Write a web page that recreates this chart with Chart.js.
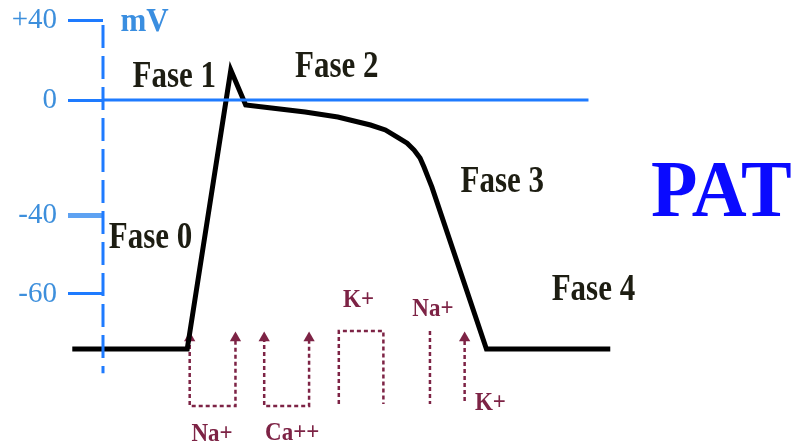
<!DOCTYPE html>
<html>
<head>
<meta charset="utf-8">
<script src="https://cdn.jsdelivr.net/npm/chart.js@4.4.1/dist/chart.umd.min.js"></script>
<style>
  html, body { margin: 0; background: #fff; }
  canvas { display: block; }
</style>
</head>
<body>
<canvas id="pat" width="807" height="447"></canvas>
<script>
// potencial de acción: tiempo (ms desde el inicio de la fase 0) y voltaje (mV)
const apTime = [-116, 0, 44, 59, 85, 119, 152, 185, 200, 212, 222, 229, 235, 239, 243, 247, 302, 427];
const apVolt = [-90, -90, 15, -1.7, -2.8, -4.2, -5.9, -8.7, -10.4, -12.9, -15.0, -17.4, -20.2, -23.3, -26.8, -30.3, -90, -90];
const zeroTime = [-85, 405];
const axisVolt = [37.5, -103];

const yTicks = [40, 0, -40, -60];
const yTickLabels = ['+40', '0', '-40', '-60'];

const phases = ['Fase 0', 'Fase 1', 'Fase 2', 'Fase 3', 'Fase 4'];
const phaseTime = [-37, -13, 151, 318, 410];
const phaseVolt = [-45.8, 11.5, 16.5, -28.5, -59.2];

// corrientes iónicas (flechas bajo la línea de reposo)
const naInTime = [2.5, 2.5, 48.7, 48.7];
const naInVolt = [-84, -120.7, -120.7, -84];
const caInTime = [77.7, 77.7, 123, 123];
const caInVolt = [-84, -120.7, -120.7, -84];
const kOutTime = [153, 153, 198, 198];
const kOutVolt = [-119.6, -80.2, -80.2, -119.6];
const naOutTime = [245, 245];
const naOutVolt = [-80.2, -119.6];
const kInTime = [280, 280];
const kInVolt = [-118, -84];

const ionLabels = ['Na+', 'Ca++', 'K+', 'Na+', 'K+'];
const ionTime = [25, 106, 173, 248, 306];
const ionVolt = [-135.8, -135.3, -63.3, -68.7, -119.6];

const BLUE = '#1e7bff';
const ION = '#7d2345';

// eje de mV esquemático: tramos lineales entre marcas
const yStops = [-104, -90, -60, -40, 0, 40];
const yStopPos = [0, 0.0732, 0.2282, 0.4507, 0.7746, 1];

class SchematicScale extends Chart.LinearScale {
  static id = 'schematic';
  static defaults = {};
  toDecimal(v) {
    let i = 0;
    while (i < yStops.length - 2 && v > yStops[i + 1]) i++;
    const f = (v - yStops[i]) / (yStops[i + 1] - yStops[i]);
    return yStopPos[i] + f * (yStopPos[i + 1] - yStopPos[i]);
  }
  getPixelForValue(v) {
    return v == null ? NaN : this.getPixelForDecimal(this.toDecimal(v));
  }
  getValueForPixel(p) {
    const d = this.getDecimalForPixel(p);
    let i = 0;
    while (i < yStopPos.length - 2 && d > yStopPos[i + 1]) i++;
    const f = (d - yStopPos[i]) / (yStopPos[i + 1] - yStopPos[i]);
    return yStops[i] + f * (yStops[i + 1] - yStops[i]);
  }
}
Chart.register(SchematicScale);

const pts = (xs, ys) => xs.map((x, i) => ({ x, y: ys[i] }));

function arrow(xs, ys, heads, rot) {
  return {
    data: pts(xs, ys),
    borderColor: ION,
    borderWidth: 2.5,
    borderDash: [4, 3],
    pointStyle: 'triangle',
    pointRotation: rot,
    pointRadius: heads,
    pointBackgroundColor: ION,
    pointBorderWidth: 0,
    clip: false
  };
}

const textPlugin = {
  id: 'texts',
  afterDatasetsDraw(chart) {
    const { ctx, scales: { x, y } } = chart;
    const put = (text, t, v, font, color, sy) => {
      ctx.save();
      ctx.translate(x.getPixelForValue(t), y.getPixelForValue(v));
      ctx.scale(1, sy);
      ctx.font = font;
      ctx.fillStyle = color;
      ctx.textAlign = 'center';
      ctx.textBaseline = 'middle';
      ctx.fillText(text, 0, 0);
      ctx.restore();
    };
    phases.forEach((p, i) => put(p, phaseTime[i], phaseVolt[i], 'bold 31px "Liberation Serif"', '#1d1d12', 1.2));
    ionLabels.forEach((p, i) => put(p, ionTime[i], ionVolt[i], 'bold 23px "Liberation Serif"', ION, 1.1));
    put('mV', -43, 39, 'bold 31px "Liberation Serif"', '#3a8ee0', 1.1);
    put('PAT', 539, -33, 'bold 76px "Liberation Serif"', '#0a0aff', 1.07);
  }
};

new Chart(document.getElementById('pat'), {
  type: 'line',
  data: {
    datasets: [
      {
        // eje vertical discontinuo
        data: pts([-85, -85], axisVolt),
        borderColor: BLUE,
        borderWidth: 3,
        borderDash: [23, 8],
        pointRadius: 0,
        clip: false
      },
      {
        data: pts(zeroTime, [0, 0]),
        borderColor: BLUE,
        borderWidth: 3,
        pointRadius: 0
      },
      {
        data: pts(apTime, apVolt),
        borderColor: '#000',
        borderWidth: 5,
        borderJoinStyle: 'miter',
        pointRadius: 0,
        tension: 0,
        clip: false
      },
      arrow(naInTime, naInVolt, [6.5, 0, 0, 6.5], 0),
      arrow(caInTime, caInVolt, [6.5, 0, 0, 6.5], 0),
      arrow(kOutTime, kOutVolt, [6.5, 0, 0, 6.5], 180),
      arrow(naOutTime, naOutVolt, [0, 6.5], 180),
      arrow(kInTime, kInVolt, [0, 6.5], 0)
    ]
  },
  options: {
    responsive: false,
    animation: false,
    layout: { padding: { top: 20, bottom: 72, left: 0, right: 0 } },
    plugins: { legend: { display: false }, tooltip: { enabled: false } },
    scales: {
      x: { type: 'linear', display: false, min: -85, max: 619 },
      y: {
        type: 'schematic',
        position: 'left',
        min: -104,
        max: 40,
        afterBuildTicks: s => { s.ticks = yTicks.map(v => ({ value: v })); },
        afterFit: s => { s.width = 103; s.paddingTop = 0; s.paddingBottom = 0; },
        ticks: {
          autoSkip: false,
          padding: 11,
          color: '#3d8fdc',
          font: { family: 'Liberation Serif', size: 29, lineHeight: 0.6 },
          callback: (v, i) => yTickLabels[i]
        },
        grid: {
          drawOnChartArea: false,
          drawTicks: true,
          tickLength: 35,
          color: c => (c.tick && c.tick.value === -40 ? '#5ea2f2' : BLUE),
          lineWidth: c => (c.tick && c.tick.value === -40 ? 5 : 3)
        },
        border: { display: false }
      }
    }
  },
  plugins: [textPlugin]
});
</script>
</body>
</html>
